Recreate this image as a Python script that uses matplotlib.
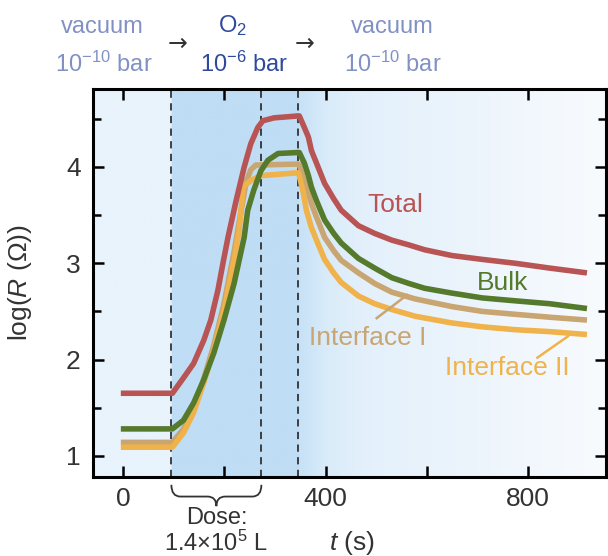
"""
Resistance of the sample while an O2 dose is applied and removed.
"""

import matplotlib

matplotlib.use("Agg")
import matplotlib.pyplot as plt
import numpy as np
from matplotlib.colors import to_rgb
from matplotlib.patches import PathPatch
from matplotlib.path import Path
from matplotlib.ticker import MultipleLocator, FixedLocator

plt.rcParams["font.family"] = ["Liberation Sans", "DejaVu Sans"]
plt.rcParams["mathtext.fontset"] = "custom"
plt.rcParams["mathtext.rm"] = "Liberation Sans"
plt.rcParams["mathtext.it"] = "Liberation Sans:italic"

# --- data ------------------------------------------------------------------
total_t = [-5, 97, 119, 139, 159, 173, 187, 197, 207, 223, 239, 252, 266,
           276, 298, 346, 348, 358, 366, 372, 382, 398, 416, 431, 465, 497,
           531, 565, 596, 650, 710, 775, 843, 917]
total_y = [1.65, 1.65, 1.81, 1.96, 2.20, 2.41, 2.72, 3.00, 3.27, 3.65, 4.00,
           4.24, 4.41, 4.48, 4.51, 4.53, 4.53, 4.41, 4.31, 4.17, 4.04, 3.83,
           3.67, 3.55, 3.39, 3.31, 3.24, 3.19, 3.14, 3.08, 3.04, 3.00, 2.95,
           2.90]

bulk_t = [-5, 97, 119, 139, 159, 179, 199, 219, 239, 246, 258, 272, 286, 306,
          346, 348, 358, 366, 372, 382, 398, 416, 431, 465, 497, 531, 565,
          596, 650, 710, 775, 843, 917]
bulk_y = [1.28, 1.28, 1.37, 1.55, 1.79, 2.07, 2.41, 2.79, 3.27, 3.55, 3.76,
          3.96, 4.07, 4.14, 4.15, 4.15, 4.04, 3.91, 3.79, 3.65, 3.45, 3.31,
          3.21, 3.05, 2.95, 2.85, 2.79, 2.74, 2.69, 2.64, 2.61, 2.58, 2.53]

intf1_t = [-5, 97, 119, 139, 159, 179, 199, 219, 233, 243, 252, 262, 346, 348,
           358, 366, 372, 382, 398, 416, 431, 465, 497, 531, 577, 650, 710,
           775, 843, 917]
intf1_y = [1.14, 1.14, 1.28, 1.49, 1.80, 2.15, 2.58, 3.12, 3.55, 3.85, 3.97,
           4.02, 4.03, 4.02, 3.86, 3.73, 3.62, 3.48, 3.27, 3.13, 3.03, 2.90,
           2.79, 2.70, 2.63, 2.55, 2.50, 2.47, 2.44, 2.41]

intf2_t = [-5, 97, 119, 139, 159, 179, 199, 219, 229, 237, 252, 272, 346, 348,
           356, 362, 372, 382, 398, 416, 431, 465, 497, 531, 577, 650, 710,
           775, 843, 917]
intf2_y = [1.09, 1.09, 1.24, 1.45, 1.76, 2.10, 2.51, 3.03, 3.34, 3.79, 3.86,
           3.91, 3.94, 3.91, 3.73, 3.55, 3.37, 3.24, 3.04, 2.90, 2.80, 2.66,
           2.58, 2.52, 2.45, 2.38, 2.34, 2.31, 2.29, 2.26]

dose_marks = [95, 273, 346]
x_ticks = [0, 200, 400, 600, 800]
x_tick_labels = ["0", "", "400", "", "800"]

TOTAL_C = "#b85453"
BULK_C = "#557a2b"
INTF1_C = "#c9a571"
INTF2_C = "#f0b24a"
LIGHT_TXT = "#8191c4"
DARK_TXT = "#2f4a9c"


def draw_background(ax, xlim, ylim):
    """Shaded dose window with a soft fade after the O2 is pumped away."""
    stops_t = [xlim[0], 95, 95, 346, 346, 400, 470, 700, xlim[1]]
    stops_c = ["#e8f3fc", "#e8f3fc", "#bfddf5", "#bfddf5", "#c6e1f6",
               "#d9ebf9", "#e3f0fb", "#edf5fc", "#f8fbfe"]
    cols = np.array([to_rgb(c) for c in stops_c])
    tt = np.linspace(xlim[0], xlim[1], 2000)
    img = np.stack([np.interp(tt, stops_t, cols[:, k]) for k in range(3)], -1)
    ax.imshow(img[None, :, :], extent=(xlim[0], xlim[1], ylim[0], ylim[1]),
              aspect="auto", origin="lower", zorder=0, interpolation="bilinear")


def draw_brace(ax, x0, x1, y_top, y_tip):
    """Curly brace under the axis, x in data and y in axes fraction."""
    w = x1 - x0
    ym = y_top + 0.55 * (y_tip - y_top)
    verts = [(x0, y_top), (x0, ym), (x0 + 0.1 * w, ym),
             (x0 + 0.4 * w, ym),
             (x0 + 0.5 * w, ym), (x0 + 0.5 * w, y_tip),
             (x0 + 0.5 * w, ym), (x0 + 0.6 * w, ym),
             (x0 + 0.9 * w, ym),
             (x1, ym), (x1, y_top)]
    codes = [Path.MOVETO, Path.CURVE3, Path.CURVE3, Path.LINETO,
             Path.CURVE3, Path.CURVE3, Path.CURVE3, Path.CURVE3,
             Path.LINETO, Path.CURVE3, Path.CURVE3]
    patch = PathPatch(Path(verts, codes), fill=False, lw=1.3, ec="#333333",
                      transform=ax.get_xaxis_transform(), clip_on=False)
    ax.add_patch(patch)


fig = plt.figure(figsize=(6.08, 5.56), dpi=100)
ax = fig.add_axes([0.153, 0.142, 0.844, 0.698])

xlim = (-60, 955)
ylim = (0.78, 4.81)
draw_background(ax, xlim, ylim)

for t in dose_marks:
    ax.axvline(t, color="#333333", lw=1.3, ls=(0, (4, 3)), zorder=1)

line_kw = dict(lw=4, solid_joinstyle="round", solid_capstyle="butt")
ax.plot(intf1_t, intf1_y, color=INTF1_C, zorder=2, **line_kw)
ax.plot(intf2_t, intf2_y, color=INTF2_C, zorder=3, **line_kw)
ax.plot(bulk_t, bulk_y, color=BULK_C, zorder=4, **line_kw)
ax.plot(total_t, total_y, color=TOTAL_C, zorder=5, **line_kw)

ax.text(537, 3.60, "Total", color=TOTAL_C, fontsize=19, ha="center", va="center")
ax.text(750, 2.79, "Bulk", color=BULK_C, fontsize=19, ha="center", va="center")
ax.text(483, 2.22, "Interface I", color=INTF1_C, fontsize=19,
        ha="center", va="center")
ax.text(759, 1.91, "Interface II", color=INTF2_C, fontsize=19,
        ha="center", va="center")
ax.plot([501, 561], [2.43, 2.67], color=INTF1_C, lw=1.8, zorder=6)
ax.plot([819, 879], [2.02, 2.24], color=INTF2_C, lw=1.8, zorder=6)

ax.set_xlim(*xlim)
ax.set_ylim(*ylim)
ax.xaxis.set_major_locator(FixedLocator(x_ticks))
ax.set_xticklabels(x_tick_labels)
ax.yaxis.set_major_locator(MultipleLocator(1))
ax.yaxis.set_minor_locator(MultipleLocator(0.5))
ax.tick_params(which="both", direction="in", top=True, right=True,
               width=1.8, labelsize=19, labelcolor="#333333")
ax.tick_params(which="major", length=8)
ax.tick_params(which="minor", length=6)
ax.tick_params(axis="x", pad=7)
ax.tick_params(axis="y", pad=9)
for spine in ax.spines.values():
    spine.set_linewidth(2.2)

ax.set_xlabel("$t$ (s)", fontsize=19, color="#333333", labelpad=2)
ax.xaxis.set_label_coords(0.505, -0.135)
ax.set_ylabel("log($R$ (Ω))", fontsize=19, color="#333333")
ax.yaxis.set_label_coords(-0.115, 0.5)

draw_brace(ax, dose_marks[0], dose_marks[1], -0.02, -0.075)
ax.text(184, -0.105, "Dose:", transform=ax.get_xaxis_transform(),
        fontsize=17, color="#333333", ha="center", va="center")
ax.text(184, -0.172, "1.4×10$^5$ L", transform=ax.get_xaxis_transform(),
        fontsize=17, color="#333333", ha="center", va="center")

# gas conditions above the plot
fig.text(102 / 608, 1 - 27 / 556, "vacuum", color=LIGHT_TXT, fontsize=17,
         ha="center", va="center")
fig.text(104 / 608, 1 - 64 / 556, "10$^{-10}$ bar", color=LIGHT_TXT,
         fontsize=17, ha="center", va="center")
fig.text(178 / 608, 1 - 44 / 556, "→", color="#333333", fontsize=17,
         ha="center", va="center", family=["DejaVu Sans"])
fig.text(232 / 608, 1 - 26 / 556, "O$_2$", color=DARK_TXT, fontsize=17,
         ha="center", va="center")
fig.text(244 / 608, 1 - 64 / 556, "10$^{-6}$ bar", color=DARK_TXT,
         fontsize=17, ha="center", va="center")
fig.text(305 / 608, 1 - 44 / 556, "→", color="#333333", fontsize=17,
         ha="center", va="center", family=["DejaVu Sans"])
fig.text(392 / 608, 1 - 27 / 556, "vacuum", color=LIGHT_TXT, fontsize=17,
         ha="center", va="center")
fig.text(393 / 608, 1 - 64 / 556, "10$^{-10}$ bar", color=LIGHT_TXT,
         fontsize=17, ha="center", va="center")

fig.savefig("out.png", dpi=100)
